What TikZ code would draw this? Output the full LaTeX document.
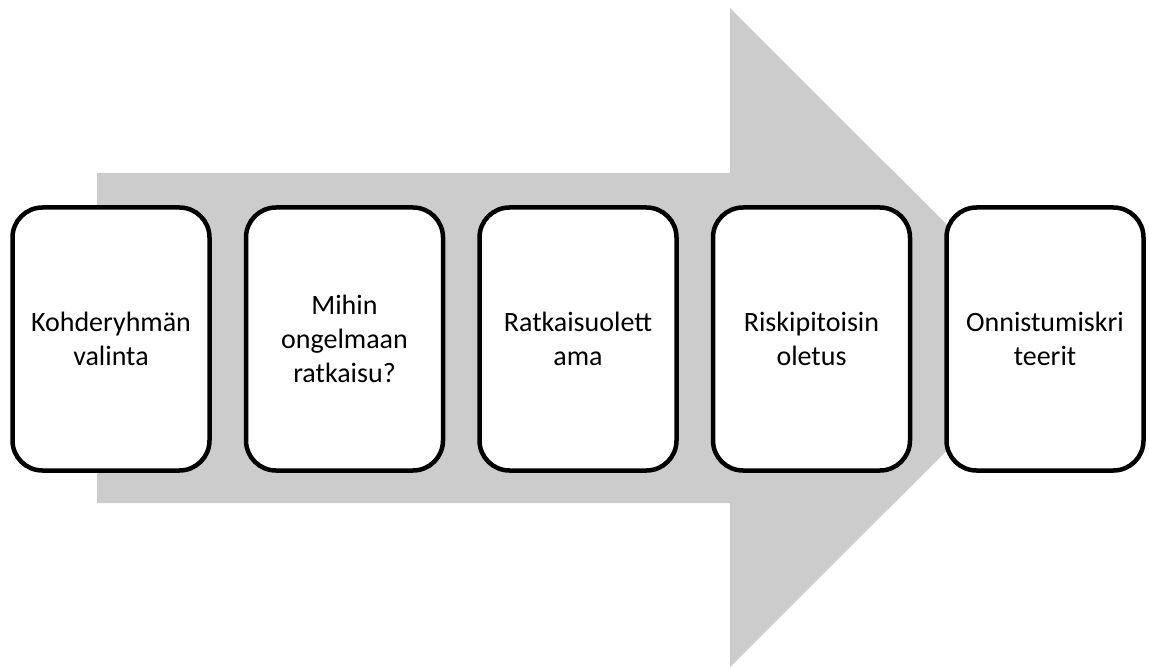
\documentclass[tikz,border=0pt]{standalone}
\usepackage{fontspec}
\setmainfont{Carlito}
\begin{document}
\begin{tikzpicture}[x=1pt,y=-1pt,
  stepbox/.style={draw=black,line width=4.5pt,fill=white,rounded corners=30pt,
    minimum width=197pt,minimum height=263pt,align=center,inner sep=0pt,
    font=\fontsize{28}{34}\selectfont},
  arrowfill/.style={fill=black!20,draw=none}]
\useasboundingbox (0,0) rectangle (1149,668);
\fill[arrowfill] (97,173) -- (730,173) -- (730,8) -- (1060,337.5) -- (730,667) -- (730,503) -- (97,503) -- cycle;
\node[stepbox] (b1) at (111,339) {Kohderyhmän\\valinta};
\node[stepbox] (b2) at (344.5,339) {Mihin\\ongelmaan\\ratkaisu?};
\node[stepbox] (b3) at (578,339) {Ratkaisuolett\\ama};
\node[stepbox] (b4) at (811.5,339) {Riskipitoisin\\oletus};
\node[stepbox] (b5) at (1045,339) {Onnistumiskri\\teerit};
\end{tikzpicture}
\end{document}
